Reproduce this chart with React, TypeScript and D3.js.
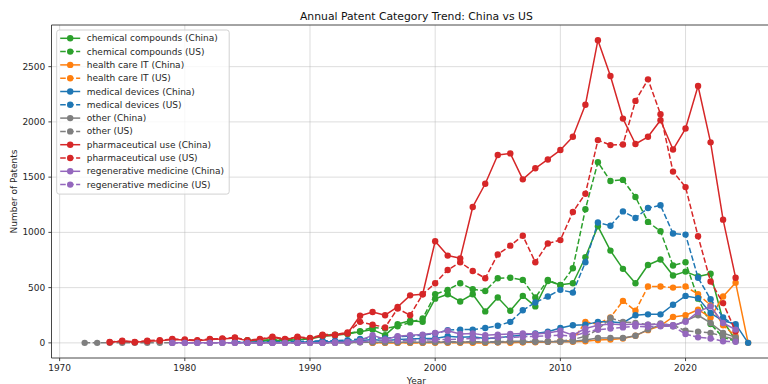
import React from 'react';
import * as d3 from 'd3';

// ---- data ---------------------------------------------------------------
const categories = [
  'chemical compounds',
  'health care IT',
  'medical devices',
  'other',
  'pharmaceutical use',
  'regenerative medicine',
];
const categoryColors = ['#2ca02c', '#ff7f0e', '#1f77b4', '#7f7f7f', '#d62728', '#9467bd'];

// Each series: first year, then one value per year.
const chemicalChinaStart = 1985;
const chemicalChina = [
  20, 15, 25, 20, 30, 35, 60, 70, 80,
  100, 120, 70, 170, 200, 190,
  400, 440, 375, 440, 285, 410, 290, 425, 330, 560,
  525, 540, 775, 1055, 835, 670, 540, 705, 755, 610,
  645, 600, 625, 200, 25,
];
const chemicalUSStart = 1985;
const chemicalUS = [
  25, 20, 30, 25, 35, 40, 70, 75, 85,
  105, 140, 130, 150, 185, 220,
  440, 480, 540, 485, 470, 585, 590, 570, 410, 570,
  520, 675, 1210, 1635, 1465, 1475, 1320, 1095, 1010, 700,
  730, 400, 170, 50, 15,
];
const healthChinaStart = 1995;
const healthChina = [
  0, 0, 0, 0, 0,
  0, 5, 0, 0, 0, 5, 0, 5, 5, 10,
  10, 10, 15, 25, 30, 40, 65, 115, 155, 235,
  250, 300, 230, 420, 545, 0,
];
const healthUSStart = 1995;
const healthUS = [
  0, 0, 0, 0, 0,
  5, 0, 5, 5, 0, 5, 5, 5, 10, 10,
  15, 20, 190, 170, 230, 380, 290, 510, 510, 500,
  510, 440, 340, 160, 60,
];
const medicalChinaStart = 1984;
const medicalChina = [
  5, 0, 5, 5, 5, 5,
  10, 10, 10, 15, 20, 30, 20, 30, 35, 40,
  40, 60, 50, 55, 40, 45, 60, 70, 85, 100,
  135, 160, 165, 190, 190, 180, 250, 258, 258, 345,
  425, 405, 270, 200, 170, 0,
];
const medicalUSStart = 1984;
const medicalUS = [
  10, 5, 10, 10, 10, 15,
  15, 20, 20, 25, 35, 45, 40, 55, 60, 70,
  85, 115, 120, 120, 135, 155, 190, 295, 365, 420,
  480, 455, 730, 1090, 1060, 1190, 1130, 1220, 1245, 990,
  980, 590, 395, 230, 150,
];
const otherChinaStart = 1985;
const otherChina = [
  0, 0, 0, 0, 0,
  0, 0, 0, 0, 5, 5, 5, 5, 5, 5,
  5, 5, 5, 10, 5, 5, 10, 10, 10, 10,
  10, 15, 25, 45, 45, 45, 65, 120, 165, 150,
  200, 250, 180, 90, 50,
];
const otherUSStart = 1972;
const otherUS = [
  0, 0, 0, 0, 0, 0, 0, 0,
  0, 0, 0, 0, 0, 0, 0, 0, 0, 0,
  0, 0, 0, 0, 5, 5, 5, 5, 5, 5,
  10, 10, 10, 10, 10, 10, 15, 15, 15, 15,
  15, 30, 60, 120, 225, 190, 180, 165, 175, 160,
  110, 100, 90, 60, 30,
];
const pharmaChinaStart = 1974;
const pharmaChina = [
  5, 15, 5, 15, 20, 30,
  25, 20, 30, 35, 45, 20, 30, 50, 30, 50,
  40, 65, 70, 85, 245, 280, 250, 325, 430, 440,
  920, 790, 765, 1230, 1440, 1700, 1715, 1480, 1580, 1660,
  1745, 1865, 2155, 2740, 2415, 2030, 1800, 1865, 2015, 1750,
  1940, 2325, 1815, 1115, 590,
];
const pharmaUSStart = 1974;
const pharmaUS = [
  8, 20, 8, 20, 25, 35,
  30, 25, 35, 40, 50, 25, 35, 55, 35, 55,
  45, 75, 75, 95, 190, 165, 140, 310, 250, 440,
  540, 660, 730, 650, 585, 800, 880, 970, 730, 900,
  930, 1185, 1350, 1835, 1790, 1795, 2190, 2385, 2070, 1550,
  1410, 965, 555, 360, 105,
];
const regenChinaStart = 1979;
const regenChina = [
  0,
  0, 0, 0, 0, 0, 0, 0, 0, 0, 0,
  0, 0, 5, 5, 20, 70, 30, 60, 70, 75,
  90, 110, 80, 85, 70, 75, 80, 85, 80, 90,
  110, 70, 130, 160, 170, 165, 170, 165, 170, 160,
  190, 280, 330, 180, 120,
];
const regenUSStart = 1979;
const regenUS = [
  0,
  0, 0, 0, 0, 0, 0, 0, 0, 0, 0,
  0, 0, 0, 5, 10, 20, 25, 20, 25, 25,
  30, 30, 35, 40, 40, 50, 50, 55, 60, 65,
  70, 60, 95, 120, 130, 140, 150, 145, 150, 150,
  80, 50, 40, 15, 10,
];

const xTicks = [1970, 1980, 1990, 2000, 2010, 2020];
const yTicks = [0, 500, 1000, 1500, 2000, 2500];

const titleText = 'Annual Patent Category Trend: China vs US';
const xLabelText = 'Year';
const yLabelText = 'Number of Patents';

// ---- series assembly ------------------------------------------------------
type Pt = { year: number; value: number };
type Series = { label: string; color: string; dashed: boolean; points: Pt[] };

const toPoints = (start: number, vals: number[]): Pt[] =>
  vals.map((v, i) => ({ year: start + i, value: v }));

const perCategory: [number, number[], number, number[]][] = [
  [chemicalChinaStart, chemicalChina, chemicalUSStart, chemicalUS],
  [healthChinaStart, healthChina, healthUSStart, healthUS],
  [medicalChinaStart, medicalChina, medicalUSStart, medicalUS],
  [otherChinaStart, otherChina, otherUSStart, otherUS],
  [pharmaChinaStart, pharmaChina, pharmaUSStart, pharmaUS],
  [regenChinaStart, regenChina, regenUSStart, regenUS],
];

const series: Series[] = [];
categories.forEach((cat, i) => {
  const [cs, cv, us, uv] = perCategory[i];
  series.push({ label: `${cat} (China)`, color: categoryColors[i], dashed: false, points: toPoints(cs, cv) });
  series.push({ label: `${cat} (US)`, color: categoryColors[i], dashed: true, points: toPoints(us, uv) });
});

// ---- layout -------------------------------------------------------------
const W = 768;
const H = 384;
const frame = { left: 51.5, right: 781.3, top: 25, bottom: 358 };
const FONT = 'DejaVu Sans, sans-serif';
const LW = 1.5;
const R = 3.2;
const DASH = `${3.7 * LW},${1.6 * LW}`;

export default function App() {
  const all = series.flatMap((s) => s.points);
  const [x0, x1] = d3.extent(all, (d) => d.year) as [number, number];
  const [y0, y1] = d3.extent(all, (d) => d.value) as [number, number];
  const xPad = (x1 - x0) * 0.05;
  const yPad = (y1 - y0) * 0.05;

  const x = d3.scaleLinear().domain([x0 - xPad, x1 + xPad]).range([frame.left, frame.right]);
  const y = d3.scaleLinear().domain([y0 - yPad, y1 + yPad]).range([frame.bottom, frame.top]);

  const line = d3
    .line<Pt>()
    .x((d) => x(d.year))
    .y((d) => y(d.value));

  const legendX = 56.7;
  const legendY = 30;
  const legendW = 172.5;
  const rowH = 13.3;
  const legendH = rowH * series.length + 4.5;

  return (
    <svg
      width={W}
      height={H}
      viewBox={`0 0 ${W} ${H}`}
      style={{ position: 'absolute', left: 0, top: 0, background: '#fff' }}
      fontFamily={FONT}
    >
      <defs>
        <clipPath id="plot-area">
          <rect x={frame.left} y={frame.top} width={frame.right - frame.left} height={frame.bottom - frame.top} />
        </clipPath>
      </defs>
      <rect x={0} y={0} width={W} height={H} fill="#fff" />

      {/* grid */}
      <g stroke="#b0b0b0" strokeOpacity={0.55} strokeWidth={0.8}>
        {xTicks.map((t) => (
          <line key={`gx${t}`} x1={x(t)} x2={x(t)} y1={frame.top} y2={frame.bottom} />
        ))}
        {yTicks.map((t) => (
          <line key={`gy${t}`} x1={frame.left} x2={frame.right} y1={y(t)} y2={y(t)} />
        ))}
      </g>

      {/* series */}
      <g clipPath="url(#plot-area)">
        {series.map((s) => (
          <g key={s.label}>
            <path
              d={line(s.points) || ''}
              fill="none"
              stroke={s.color}
              strokeWidth={LW}
              strokeDasharray={s.dashed ? DASH : undefined}
              strokeLinejoin="round"
            />
            {s.points.map((p) => (
              <circle key={p.year} cx={x(p.year)} cy={y(p.value)} r={R} fill={s.color} />
            ))}
          </g>
        ))}
      </g>

      {/* frame */}
      <g stroke="#333" strokeWidth={0.9} fill="none">
        <line x1={frame.left} x2={frame.left} y1={frame.top} y2={frame.bottom} />
        <line x1={frame.left} x2={frame.right} y1={frame.bottom} y2={frame.bottom} />
        <line x1={frame.left} x2={frame.right} y1={frame.top} y2={frame.top} />
        <line x1={frame.right} x2={frame.right} y1={frame.top} y2={frame.bottom} />
      </g>

      {/* x axis */}
      <g fontSize={9} fill="#262626">
        {xTicks.map((t) => (
          <g key={`xt${t}`}>
            <line x1={x(t)} x2={x(t)} y1={frame.bottom} y2={frame.bottom + 3.1} stroke="#333" strokeWidth={0.9} />
            <text x={x(t)} y={frame.bottom + 13} textAnchor="middle">
              {t}
            </text>
          </g>
        ))}
        <text x={(frame.left + frame.right) / 2} y={383.5} textAnchor="middle">
          {xLabelText}
        </text>
      </g>

      {/* y axis */}
      <g fontSize={9} fill="#262626">
        {yTicks.map((t) => (
          <g key={`yt${t}`}>
            <line x1={frame.left - 3.1} x2={frame.left} y1={y(t)} y2={y(t)} stroke="#333" strokeWidth={0.9} />
            <text x={frame.left - 6.2} y={y(t)} textAnchor="end" dominantBaseline="central">
              {t}
            </text>
          </g>
        ))}
        <text
          transform={`translate(14,${(frame.top + frame.bottom) / 2}) rotate(-90)`}
          textAnchor="middle"
          dominantBaseline="central"
        >
          {yLabelText}
        </text>
      </g>

      {/* title */}
      <text
        x={(frame.left + frame.right) / 2}
        y={19.5}
        textAnchor="middle"
        fontSize={10.8}
        fill="#111"
      >
        {titleText}
      </text>

      {/* legend */}
      <g>
        <rect
          x={legendX}
          y={legendY}
          width={legendW}
          height={legendH}
          rx={2.5}
          fill="#fff"
          fillOpacity={0.8}
          stroke="#cccccc"
          strokeWidth={0.9}
        />
        {series.map((s, i) => {
          const cy = legendY + 8.3 + i * rowH;
          return (
            <g key={`lg${s.label}`}>
              <line
                x1={legendX + 3.5}
                x2={legendX + 23.5}
                y1={cy}
                y2={cy}
                stroke={s.color}
                strokeWidth={LW}
                strokeDasharray={s.dashed ? DASH : undefined}
              />
              <circle cx={legendX + 13.5} cy={cy} r={R} fill={s.color} />
              <text x={legendX + 30} y={cy} dominantBaseline="central" fontSize={9} fill="#262626">
                {s.label}
              </text>
            </g>
          );
        })}
      </g>
    </svg>
  );
}
